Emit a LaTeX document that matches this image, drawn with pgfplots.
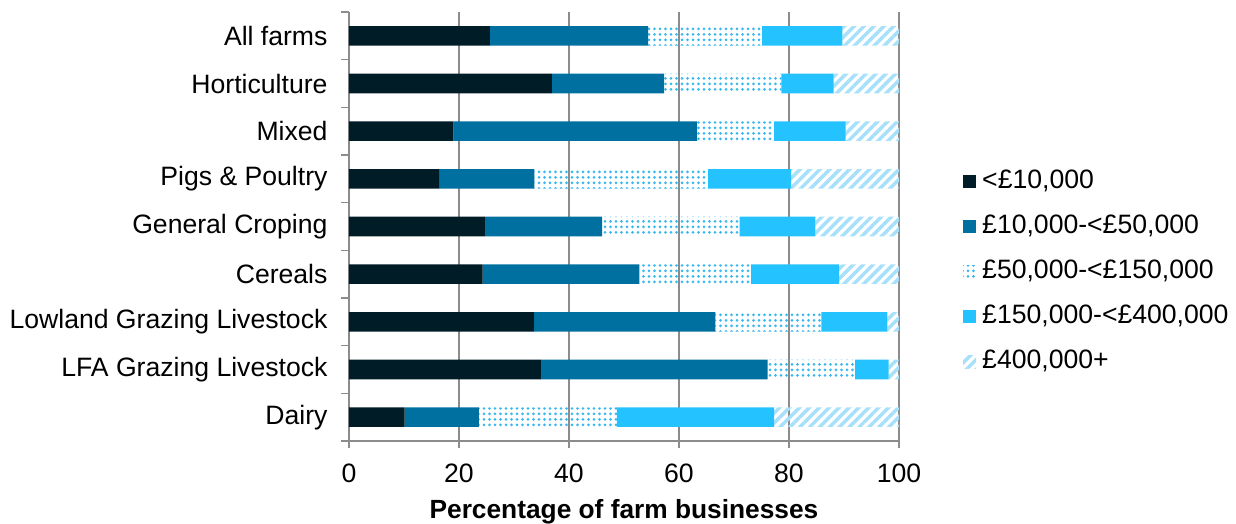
\documentclass[border=0pt]{standalone}
\usepackage{pgfplots}
\pgfplotsset{compat=1.18}
\usepackage{pgfplotstable}
\usepackage{fontspec}
\setmainfont{Liberation Sans}
\usetikzlibrary{patterns.meta}

\definecolor{band1}{HTML}{001C26}
\definecolor{band2}{HTML}{0070A0}
\definecolor{band3}{HTML}{38B8EE}
\definecolor{band4}{HTML}{24C2FF}
\definecolor{band5}{HTML}{A6E0FA}
\definecolor{gridgray}{HTML}{8C8C8C}

% share of farm businesses (%) by farm business income band
\pgfplotstableread{
y  b1   b2   b3   b4   b5
8  25.6 28.8 20.7 14.6 10.3
7  36.9 20.4 21.3  9.5 11.9
6  19.0 44.3 14.0 13.0  9.7
5  16.4 17.3 31.6 15.1 19.6
4  24.7 21.3 25.0 13.8 15.2
3  24.3 28.5 20.3 16.0 10.9
2  33.6 33.0 19.3 12.0  2.1
1  34.9 41.2 15.9  6.1  1.9
0  10.1 13.5 25.1 28.6 22.7
}\farmdata

\pgfplotsset{sq/.style={legend image code/.code={\path[##1] (0pt,-6.5pt) rectangle (13pt,6.5pt);}}}

\begin{document}
\begin{tikzpicture}
\begin{axis}[
  name=ax,
  scale only axis, width=550pt, height=429pt,
  xbar stacked, bar width=0.41,
  xmin=0, xmax=100, ymin=-0.5, ymax=8.5,
  xtick={0,20,...,100}, ytick={0,...,8},
  yticklabels={Dairy, LFA Grazing Livestock, Lowland Grazing Livestock, Cereals, General Croping, Pigs \& Poultry, Mixed, Horticulture, All farms},
  minor ytick={-0.5,0.5,...,8.5},
  axis x line*=bottom, axis y line*=left,
  axis line style={gridgray, line width=1.5pt},
  xmajorgrids, grid style={gridgray, line width=1.5pt},
  tick align=outside, major tick length=7pt, minor tick length=8pt,
  every major y tick/.style={draw=none},
  every minor y tick/.style={gridgray, line width=1.5pt},
  every major x tick/.style={gridgray, line width=1.5pt},
  tick label style={font=\fontsize{26.6pt}{31pt}\selectfont, text=black},
  yticklabel style={xshift=-11pt},
  xticklabel style={yshift=-12pt},
  /pgf/number format/assume math mode=true,
  xlabel={\textbf{Percentage of farm businesses}},
  xlabel style={font=\fontsize{26.3pt}{31pt}\selectfont, yshift=-10pt},
  legend cell align=left,
  legend style={at={(1.1164,0.395)}, anchor=west, draw=none, fill=none,
    inner sep=0pt, row sep=22pt, column sep=6pt,
    font=\fontsize{26.6pt}{31pt}\selectfont,
    nodes={inner sep=0pt, text height=18pt, text depth=5pt}},
]
\addplot[fill=band1, draw=none, sq] table[x=b1, y=y]{\farmdata};
\addplot[fill=band2, draw=none, sq] table[x=b2, y=y]{\farmdata};
\addplot[draw=none, sq, pattern color=band3,
  pattern={Dots[distance=5.5pt, radius=1.5pt]}]
  table[x=b3, y=y]{\farmdata};
\addplot[fill=band4, draw=none, sq] table[x=b4, y=y]{\farmdata};
\addplot[draw=none, sq, pattern color=band5,
  pattern={Lines[angle=45, distance=7pt, line width=3.5pt]}]
  table[x=b5, y=y]{\farmdata};
\legend{{<£10,000}, {£10,000-<£50,000}, {£50,000-<£150,000}, {£150,000-<£400,000}, {£400,000+}}
\end{axis}
\pgfresetboundingbox
\path ([shift={(-349pt,-83pt)}]ax.south west) rectangle ([shift={(337pt,12pt)}]ax.north east);
\end{tikzpicture}
\end{document}
